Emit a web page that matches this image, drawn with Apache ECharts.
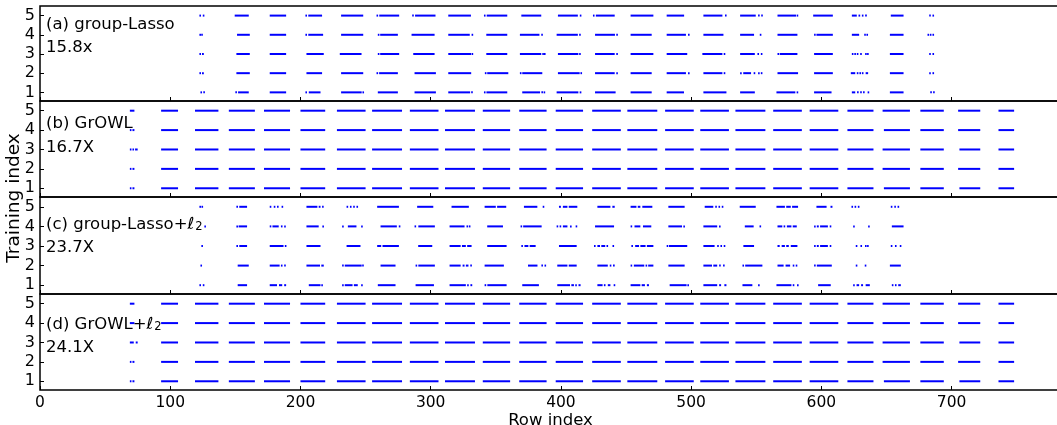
<!DOCTYPE html>
<html>
<head>
<meta charset="utf-8">
<script src="https://cdn.jsdelivr.net/npm/echarts@6/dist/echarts.min.js"></script>
<style>
  html, body { margin: 0; padding: 0; background: #fff; }
  #chart { width: 1057px; height: 425px; }
</style>
</head>
<body>
<div id="chart"></div>
<script>
// x ticks / y ticks
const xTicks = [0, 100, 200, 300, 400, 500, 600, 700];
const yTicks = [1, 2, 3, 4, 5];

// (a) group-Lasso, segments [start row, end row] per training index
const lassoRow1 = [[123.2,124],[125.4,126.2],[150,150.8],[152.1,160.3],[176.4,189],[203.8,204.6],[206.4,215.4],[231.2,247],[247.6,248.2],[259.4,274.8],[287.6,304],[313.5,330.3],[331.1,331.9],[340.9,341.7],[342.8,358.8],[370.3,384],[385,385.8],[386.7,387.5],[396.7,413.4],[414.4,415.7],[426.2,442],[453.5,469.7],[481.2,494.5],[509.4,527.1],[537.6,548.9],[565.5,580],[581,581.6],[594.4,607.8],[623.4,626],[627.4,628.2],[629.8,630.6],[632,632.8],[635.5,636.3],[652.6,663.1],[683.6,684.4],[685.8,686.6]];
const lassoRow2 = [[122.4,123.2],[124.4,125.8],[150.8,161.1],[176.4,189],[204.6,216.6],[231.2,248.2],[258.4,259.2],[260.4,274.8],[287.6,304],[313.5,331.1],[341.6,342.4],[343.4,359.6],[368.5,369.3],[370.3,385.7],[397.7,414.4],[415,415.7],[426.2,441.3],[442.5,443.3],[453.5,469.7],[481.2,496],[497.6,498.4],[509.4,524],[525,525.8],[537.6,538.4],[540,546],[548,549],[551.4,552.2],[553.5,554.5],[566.3,582.1],[594.4,608.8],[622.6,626],[627.2,628],[629.2,630],[631.1,632],[634,635.9],[652.6,663.1],[682.8,683.6],[685.3,686.1]];
const lassoRow3 = [[122.4,123.2],[124.4,125.8],[150.8,161.1],[176.4,189],[204.6,217.9],[230.2,246.9],[259.4,260.2],[261.2,275.8],[286.6,303],[313.5,331],[331.4,332.2],[342.7,358.8],[368.5,384.9],[385.7,386.5],[387,387.5],[397.7,413.4],[414,414.8],[426.2,441.3],[442.5,443.3],[453.5,471],[481.2,497],[508.6,524],[525,525.8],[537.6,548.9],[550.9,551.7],[553.5,554.3],[566.3,567.1],[568,581.6],[594.4,608.8],[623.4,624.2],[625.3,626.1],[627.2,628],[629.8,630.6],[633.6,634.4],[635.1,635.9],[652.6,663.1],[682.8,683.6],[685.3,686.1]];
const lassoRow4 = [[122.4,123.2],[123.8,124.4],[151.3,161.1],[176.4,189],[203.8,204.8],[206,217.4],[231.2,248.2],[259.4,260.2],[261.2,274.8],[285.3,303],[313.5,330],[331.4,332.2],[342.7,358.8],[368.5,383.5],[384.9,385.7],[396.7,413],[414,414.8],[426.2,441.5],[442.5,443.3],[453.5,469.7],[481.2,496],[497.6,498.4],[509.4,524.8],[537.6,548.3],[552.7,553.5],[566.3,581.6],[594.4,595.2],[596.2,608.8],[623.4,629],[632.9,633.7],[634.6,635.4],[652.6,663.1],[681.5,682.3],[683.3,684.1],[685.3,686.1]];
const lassoRow5 = [[122.4,123.2],[125,125.8],[149.5,160.3],[176.4,189],[203.8,204.8],[206,216.6],[231.2,248.2],[258.4,259.4],[260.5,275.8],[285.8,286.8],[288,303.7],[313.5,330.9],[340.9,341.9],[343,358.8],[369.6,384.9],[397.7,413],[414.5,415.7],[424.6,425.6],[426.8,441.3],[453.5,471],[481.2,494.6],[509.4,524],[526,527.1],[537.6,549.6],[551.4,552.2],[553.8,554.7],[566.3,580.5],[581,581.6],[593.7,608.8],[623.4,627.2],[628.5,629.8],[631.1,632.3],[633.6,634.9],[653.3,663.1],[682.8,683.6],[685.3,686.1]];

// (b) GrOWL
const growlRow1 = [[69,70],[71,72.5],[93,106],[119,137],[145,165],[172,192],[200,219],[228,250],[255,278],[284,306],[311,334],[340,361],[368,389],[396,417],[424,446],[451,474],[480,502],[507,529],[534,557],[563,585],[591,613],[620,640],[648,668],[676,694],[706,722],[736,748]];
const growlRow2 = [[69,70],[71,72.5],[93,106],[119,137],[145,165],[172,192],[200,219],[228,250],[255,278],[284,306],[311,334],[340,361],[368,389],[396,417],[424,446],[451,474],[480,502],[507,529],[534,557],[563,585],[591,613],[620,640],[647,668],[676,694],[705,722],[736,748]];
const growlRow3 = [[69,70],[71,72],[73,75],[93,106],[119,137],[145,165],[172,192],[200,219],[228,250],[255,278],[284,306],[311,334],[340,361],[368,389],[396,417],[424,446],[451,474],[480,502],[507,529],[534,557],[563,585],[591,613],[620,640],[647,668],[676,694],[706,722],[736,748]];
const growlRow4 = [[69,70],[71,72.5],[93,106],[119,137],[145,165],[172,192],[200,219],[228,250],[255,278],[284,306],[311,334],[340,361],[368,389],[396,417],[424,446],[451,474],[480,502],[507,529],[534,557],[563,585],[591,613],[620,640],[648,668],[676,694],[705,722],[736,748]];
const growlRow5 = [[69,72.5],[93,106],[119,137],[145,165],[172,192],[200,219],[228,250],[255,278],[284,306],[311,334],[340,361],[368,389],[396,417],[424,446],[451,474],[480,502],[507,529],[534,557],[563,585],[591,613],[620,640],[647,668],[676,694],[705,722],[736,748]];

// (c) group-Lasso + l2
const lassoL2Row1 = [[122.4,123.2],[125,126.2],[151.8,159],[176.4,182],[183.5,186],[187.5,189],[206.4,215.4],[216,216.6],[232,232.8],[234,240],[241,244],[246.6,247.4],[259.4,273],[288.4,302.5],[314.5,327],[328,329],[330.5,331.9],[341.4,342.2],[343.5,358.3],[370.3,383.1],[397.2,407],[408,410],[411,411.8],[413.5,415.1],[428,432],[433,434],[436,438],[440.5,441.3],[453.5,461],[462,464.5],[466,467.6],[483.5,496.5],[497.1,497.9],[509.4,520],[521.5,523],[525.5,527.1],[539.4,547],[551.4,552.2],[565.5,577],[578,579],[581.3,582.1],[597.5,607.2],[624.4,625.2],[627,629],[630.5,632],[634,637.2],[654.1,655],[656.5,657.5],[659,661]];
const lassoL2Row2 = [[123.2,124],[151.8,160.3],[176.4,184],[185,186],[187.5,188.3],[204.6,215],[216,217.9],[232,232.8],[234,247],[247.4,248.2],[261.5,273],[288.4,289.2],[290.5,303.2],[314.5,323],[324.5,326],[327,329],[330.4,331.4],[341.4,356.2],[374.7,382],[385,385.8],[387.4,388.2],[397.2,405],[406,412.1],[428,436],[437.5,438.3],[440,441.3],[453.5,454.3],[456,464],[465,466],[467,471],[482.5,495],[509.4,516],[517,520],[521.5,522.3],[524.5,525.3],[539.4,540.2],[541.5,554.7],[566.3,571],[572.5,576],[578,579],[580.3,581.1],[594.4,595.2],[596.5,608],[626.4,627.2],[633.3,634.1],[652.6,661]];
const lassoL2Row3 = [[123.9,124.7],[150.8,152],[153,159],[176.4,187],[188,189],[204.6,215.4],[235.4,246.1],[258.9,262],[263,275.6],[290.4,301.2],[314.5,323],[324,327],[328,331.4],[343.4,358.3],[369.6,370.4],[372,375],[376,380.6],[398.5,412.1],[425.4,426.2],[428,430],[431,434],[435,436],[439.6,440.4],[454.1,455],[457,460],[461,465],[466,471],[481.2,482],[483,497],[509.4,518],[520,520.8],[522.5,523.3],[525,525.8],[540.1,548.3],[566.3,568],[569.5,572],[573,575],[576.5,581.6],[594.4,595.2],[596.5,598],[599,605],[606.4,607.2],[626.4,627.2],[630,630.8],[633.5,634.3],[635.1,635.9],[653.3,654.1],[656.5,657.3],[660.2,661]];
const lassoL2Row4 = [[126.2,127],[150.8,151.6],[152.5,159],[176.4,177.2],[178.5,183.3],[185,186],[187.5,188.5],[204.6,214],[216.8,217.6],[232,232.8],[236.4,243],[246.6,247.4],[261.5,274],[275.5,276.3],[287.6,288.4],[290.5,303.2],[314.5,326],[327.5,328.5],[329.3,330.1],[343.4,355.5],[369,370],[371,385.2],[396.7,397.5],[399,400],[401.5,405],[407,408],[411.3,412.1],[426.2,440.8],[453.5,454.3],[456.5,461],[463,469.4],[482.5,493],[494,495],[509.4,520],[521.4,522.2],[541.2,548],[552.5,553.3],[566.3,570],[571,572],[573.5,577],[578,581.1],[594.4,595.2],[596.5,598],[599,605],[606.4,607.2],[624.4,625.2],[635.9,636.7],[654.1,663.1]];
const lassoL2Row5 = [[122.4,123.2],[124,124.8],[150.8,152],[153,159],[176.4,177.4],[179.5,180.5],[182,183],[185.5,186.5],[204.6,213],[214,215.4],[216.6,217.6],[235.4,236.2],[238,239],[240.5,241.3],[243,244.1],[258.9,275.6],[289.6,302],[316,329.3],[341.4,350],[351,358],[371.6,381.9],[386,387],[398.5,400],[401.5,405],[406,412.6],[428,438],[439.5,441.3],[453.5,458],[459,461],[462.5,470.2],[482.5,495],[510.4,517],[518.5,519.5],[521,522],[523.5,524.5],[537.3,549.6],[565.5,572],[573,576.5],[577.5,582.1],[596.2,604],[607,608.5],[623.1,624.1],[625.5,626.5],[628,629],[653.3,654.3],[656,657],[658.5,659.5]];

// (d) GrOWL + l2
const growlL2Row1 = [[69,70],[71,72.5],[93,106],[119,137],[145,165],[172,192],[200,219],[228,250],[255,278],[284,306],[311,334],[340,361],[368,389],[396,417],[424,446],[451,474],[480,502],[507,529],[534,557],[563,585],[591,613],[620,640],[648,668],[676,694],[706,722],[736,748]];
const growlL2Row2 = [[69,70],[71,72.5],[93,106],[119,137],[145,165],[172,192],[200,219],[228,250],[255,278],[284,306],[311,334],[340,361],[368,389],[396,417],[424,446],[451,474],[480,502],[507,529],[534,557],[563,585],[591,613],[620,640],[647,668],[676,694],[705,722],[736,748]];
const growlL2Row3 = [[69,72],[73.5,75],[93,106],[119,137],[145,165],[172,192],[200,219],[228,250],[255,278],[284,306],[311,334],[340,361],[368,389],[396,417],[424,446],[451,474],[480,502],[507,529],[534,557],[563,585],[591,613],[620,640],[647,668],[676,694],[706,722],[736,748]];
const growlL2Row4 = [[69,72.5],[93,106],[119,137],[145,165],[172,192],[200,219],[228,250],[255,278],[284,306],[311,334],[340,361],[368,389],[396,417],[424,446],[451,474],[480,502],[507,529],[534,557],[563,585],[591,613],[620,640],[647,668],[676,694],[705,722],[736,748]];
const growlL2Row5 = [[69,72.5],[93,106],[119,137],[145,165],[172,192],[200,219],[228,250],[255,278],[284,306],[311,334],[340,361],[368,389],[396,417],[424,446],[451,474],[480,502],[507,529],[534,557],[563,585],[591,613],[620,640],[647,668],[676,694],[705,722],[736,748]];

const panels = [
  { rows: [lassoRow1, lassoRow2, lassoRow3, lassoRow4, lassoRow5], top: 6, height: 95, name: '{t|(a) group-Lasso}', ratio: '15.8x', ly: 22, ry: 48 },
  { rows: [growlRow1, growlRow2, growlRow3, growlRow4, growlRow5], top: 101, height: 96, name: '{t|(b) GrOWL}', ratio: '16.7X', ly: 121, ry: 148 },
  { rows: [lassoL2Row1, lassoL2Row2, lassoL2Row3, lassoL2Row4, lassoL2Row5], top: 197, height: 97, name: '{t|(c) group-Lasso+ℓ}{s|2}', ratio: '23.7X', ly: 222, ry: 248 },
  { rows: [growlL2Row1, growlL2Row2, growlL2Row3, growlL2Row4, growlL2Row5], top: 294, height: 96, name: '{t|(d) GrOWL+ℓ}{s|2}', ratio: '24.1X', ly: 322, ry: 348 }
];

const FONT = 'DejaVu Sans';

function renderSeg(params, api) {
  const p0 = api.coord([api.value(0), api.value(2)]);
  const p1 = api.coord([api.value(1), api.value(2)]);
  let x2 = p1[0];
  if (x2 - p0[0] < 1.6) x2 = p0[0] + 1.6;
  return {
    type: 'line',
    shape: { x1: p0[0], y1: p0[1], x2: x2, y2: p1[1] },
    style: { stroke: '#0000ff', lineWidth: 2 }
  };
}

const richLabel = {
  t: { fontFamily: FONT, fontSize: 16.5, color: '#000', lineHeight: 20, verticalAlign: 'bottom' },
  s: { fontFamily: FONT, fontSize: 11.5, color: '#000', lineHeight: 20, verticalAlign: 'bottom', padding: [0, 0, 0, 1] }
};

const grid = [], xAxis = [], yAxis = [], series = [], graphic = [];
panels.forEach((p, i) => {
  const last = i === panels.length - 1;
  grid.push({
    left: 40, width: 1021, top: p.top, height: p.height,
    outerBoundsMode: 'none', containLabel: false,
    show: true, borderColor: '#000', borderWidth: 1.5, backgroundColor: 'transparent'
  });
  xAxis.push({
    type: 'value', gridIndex: i, min: 0, max: 784,
    axisLine: { show: false },
    splitLine: { show: false },
    axisTick: { show: true, inside: true, length: 4, customValues: xTicks, lineStyle: { color: '#000' } },
    axisLabel: { show: last, customValues: xTicks, color: '#000', fontFamily: FONT, fontSize: 15.5, margin: 5 },
    name: last ? 'Row index' : '', nameLocation: 'middle', nameGap: 20,
    nameTextStyle: { color: '#000', fontFamily: FONT, fontSize: 16.5 }
  });
  yAxis.push({
    type: 'value', gridIndex: i, min: 0.55, max: 5.5,
    axisLine: { show: false },
    splitLine: { show: false },
    axisTick: { show: true, inside: true, length: 4, customValues: yTicks, lineStyle: { color: '#000' } },
    axisLabel: { customValues: yTicks, color: '#000', fontFamily: FONT, fontSize: 16, margin: 5 }
  });
  const data = [];
  p.rows.forEach((segs, r) => segs.forEach(s => data.push([s[0], s[1], r + 1])));
  series.push({
    type: 'custom', xAxisIndex: i, yAxisIndex: i,
    renderItem: renderSeg,
    encode: { x: [0, 1], y: 2 },
    data: data, silent: true, animation: false, clip: true
  });
  graphic.push({ type: 'text', x: 46, y: p.ly + 1, z: 10,
    style: { text: p.name, rich: richLabel, verticalAlign: 'middle' } });
  graphic.push({ type: 'text', x: 46, y: p.ry, z: 10,
    style: { text: p.ratio, font: '16.5px "' + FONT + '"', fill: '#000', verticalAlign: 'middle' } });
});

graphic.push({
  type: 'text', x: 14, y: 198, rotation: Math.PI / 2,
  style: { text: 'Training index', font: '18.5px "' + FONT + '"', fill: '#000', align: 'center', verticalAlign: 'middle' }
});

const chart = echarts.init(document.getElementById('chart'));
chart.setOption({
  animation: false,
  backgroundColor: '#fff',
  grid, xAxis, yAxis, series, graphic
});
</script>
</body>
</html>
